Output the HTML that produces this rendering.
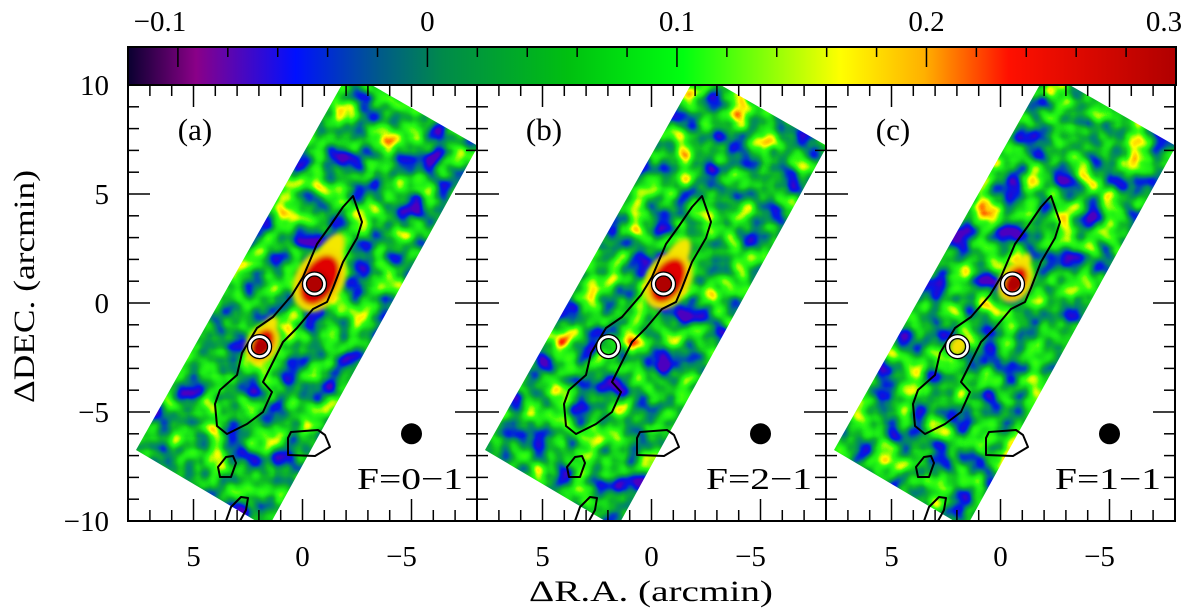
<!DOCTYPE html>
<html><head><meta charset="utf-8">
<style>
html,body{margin:0;padding:0;background:#fff;}
svg{display:block;font-family:"Liberation Serif",serif;}
</style></head>
<body>
<svg id="fig" width="1200" height="612" viewBox="0 0 1200 612" xmlns="http://www.w3.org/2000/svg">
<defs>
<linearGradient id="cmap" x1="0" x2="1" y1="0" y2="0">
<stop offset="0" stop-color="#0a0030"/>
<stop offset="0.065" stop-color="#8a0088"/>
<stop offset="0.16" stop-color="#0010ff"/>
<stop offset="0.24" stop-color="#005a8a"/>
<stop offset="0.30" stop-color="#008a4a"/>
<stop offset="0.42" stop-color="#00c010"/>
<stop offset="0.53" stop-color="#00ff10"/>
<stop offset="0.68" stop-color="#ffff00"/>
<stop offset="0.76" stop-color="#ffb000"/>
<stop offset="0.84" stop-color="#ff1000"/>
<stop offset="1" stop-color="#b00000"/>
</linearGradient>
<filter id="noise" x="0" y="0" width="100%" height="100%" color-interpolation-filters="sRGB">
<feTurbulence type="fractalNoise" baseFrequency="0.04" numOctaves="2" seed="7"/>
<feColorMatrix type="matrix" values="1 0 0 0 0  1 0 0 0 0  1 0 0 0 0  0 0 0 0 1"/>
<feComponentTransfer>
<feFuncR type="table" tableValues="0.3 0.3 0.3 0.3 0.3 0.1 0 0 0 0.02 0.05 0.08 0.12 0.2 0.6 1 1 1 1 1 1"/>
<feFuncG type="table" tableValues="0 0 0 0 0 0.05 0.1 0.3 0.5 0.6 0.72 0.85 0.95 1 1 1 0.8 0.4 0 0 0"/>
<feFuncB type="table" tableValues="0.75 0.75 0.75 0.75 0.75 0.85 0.9 0.7 0.45 0.3 0.15 0.1 0.08 0.05 0.02 0 0 0 0 0 0"/>
</feComponentTransfer>
</filter>
<filter id="blur" x="-50%" y="-50%" width="200%" height="200%"><feGaussianBlur stdDeviation="2.5"/></filter>
</defs>
<g id="root"></g>
</svg>
<script>
// colorbar data
const cbTicks = [-0.1, 0, 0.1, 0.2, 0.3];
const cbTickLabels = ["\u22120.1", "0", "0.1", "0.2", "0.3"];
const cbMin = -0.12, cbMax = 0.3;
// axis data (arcmin)
const xTicks = [5, 0, -5];
const xTickLabels = ["5", "0", "\u22125"];
const yTicks = [10, 5, 0, -5, -10];
const yTickLabels = ["10", "5", "0", "\u22125", "\u221210"];
const panelLabels = ["(a)", "(b)", "(c)"];
const lineLabels = ["F=0\u22121", "F=2\u22121", "F=1\u22121"];
// sources (arcmin offsets)
const srcX = [-0.55, 1.97];
const srcY = [0.87, -2.0];
// emission peak strength per panel per source
const peakA = [1.0, 0.9, 0.6];
const peakB = [0.6, 0.0, 0.2];
const beamX = -5, beamY = -6;

const NS = "http://www.w3.org/2000/svg";
const root = document.getElementById('root');
function mk(tag, attrs, parent) {
  const e = document.createElementNS(NS, tag);
  for (const k in attrs) e.setAttribute(k, attrs[k]);
  (parent || root).appendChild(e);
  return e;
}
const PX = 21.8, PY = 21.8;
const panelLeft = [128, 477, 826], panelW = 349, topY = 85, botY = 521;
function sx(p, v) { return panelLeft[p] + panelW / 2 - v * PX; }
function sy(v) { return 303 - v * PY; }
const cbL = 128, cbR = 1176, cbT = 47, cbB = 85;
function cx(v) { return cbL + (v - cbMin) / (cbMax - cbMin) * (cbR - cbL); }

let cb = mk('rect', {x: cbL, y: cbT, width: cbR - cbL, height: cbB - cbT, fill: 'url(#cmap)', stroke: '#000', 'stroke-width': 2});


for (let i = 0; i <= 21; i++) {
  const v = cbMin + i * 0.02;
  const major = cbTicks.some(t => Math.abs(t - v) < 1e-6);
  const t = mk('line', {x1: cx(v), x2: cx(v), y1: cbT, y2: cbT + (major ? 20 : 10), stroke: '#000', 'stroke-width': 1.5});
  
  
}
cbTicks.forEach((v, i) => {
  const t = mk('text', {x: cx(v) - (i === 0 ? 18 : 0) + (i === 4 ? -12 : 0), y: 31, 'font-size': 29, 'text-anchor': 'middle'});
  t.textContent = cbTickLabels[i];
  
  
});

const mainC = [[353,196],[362,222],[357,238],[343,262],[333,288],[327,302],[313,309],[297,328],[283,342],[270,368],[263,382],[272,392],[263,412],[247,424],[227,434],[217,426],[215,404],[220,390],[237,375],[242,353],[257,328],[273,317],[292,295],[303,277],[317,244],[330,226],[343,207]];
const smallR = [[288,438],[288,455],[315,456],[330,447],[325,435],[318,430],[291,432]];
const smallL = [[218,467],[220,477],[231,477],[236,463],[233,456],[226,457]];
const botC = [[226,521],[231,507],[241,497],[248,498],[246,510],[240,521]];
const mapPoly = [[136,450],[349,72],[478,146],[268,528]];
function pathOf(pts, dx, close) {
  return 'M' + pts.map(p => (p[0] + dx) + ',' + p[1]).join(' L') + (close ? ' Z' : '');
}

for (let p = 0; p < 3; p++) {
  const dx = panelLeft[p] - panelLeft[0];
  const g = mk('g', {});
  
  
  const cid = 'clip' + p;
  const cp = mk('clipPath', {id: cid}, g);
  mk('polygon', {points: mapPoly.map(q => (q[0] + dx) + ',' + q[1]).join(' ')}, cp);
  const pc = 'pc' + p;
  const pcp = mk('clipPath', {id: pc}, g);
  mk('rect', {x: panelLeft[p], y: topY, width: panelW, height: botY - topY}, pcp);
  const outer = mk('g', {'clip-path': 'url(#' + pc + ')'}, g);
  const mg = mk('g', {'clip-path': 'url(#' + cid + ')'}, outer);
  const nr = mk('rect', {x: panelLeft[p], y: topY, width: panelW, height: botY - topY, filter: 'url(#noise)'}, mg);
  
  
  const bx = [sx(p, srcX[0]), sx(p, srcX[1])], by = [sy(srcY[0]), sy(srcY[1])];
  const pk = [peakA[p], peakB[p]];
  for (let s = 0; s < 2; s++) {
    if (pk[s] <= 0) continue;
    const k = pk[s];
    const bg = mk('g', {filter: 'url(#blur)'}, mg);
    
    
    const yx = bx[s] + 12 * k, yy = by[s] - 24 * k;
    mk('ellipse', {cx: yx, cy: yy, rx: 30 * k, ry: 10 * k + 2, fill: '#f4e800', transform: 'rotate(-60 ' + yx + ' ' + yy + ')'}, bg);
    const ox = bx[s] + 5 * k, oy = by[s] - 4 * k;
    mk('ellipse', {cx: ox, cy: oy, rx: 30 * k + 4, ry: 20 * k + 4, fill: '#f4e000', transform: 'rotate(-60 ' + ox + ' ' + oy + ')'}, bg);
    if (k > 0.3) {
      mk('ellipse', {cx: ox, cy: oy, rx: 27 * k, ry: 17 * k, fill: '#e00000', transform: 'rotate(-60 ' + ox + ' ' + oy + ')'}, bg);
      mk('circle', {cx: bx[s] + 2, cy: by[s], r: 13 * k, fill: '#b00000'}, bg);
    }
  }
  [[mainC, true], [smallR, true], [smallL, true], [botC, false]].forEach(([pts, cl]) => {
    const c = mk('path', {d: pathOf(pts, dx, cl), fill: 'none', stroke: '#000', 'stroke-width': 2, 'stroke-linejoin': 'round'}, outer);
    
    
  });
  for (let s = 0; s < 2; s++) {
    const m = mk('circle', {cx: bx[s], cy: by[s], r: 10, fill: 'none', stroke: '#fff', 'stroke-width': 3.5}, g);
    
    
    mk('circle', {cx: bx[s], cy: by[s], r: 12, fill: 'none', stroke: '#000', 'stroke-width': 1.3}, g);
    mk('circle', {cx: bx[s], cy: by[s], r: 8, fill: 'none', stroke: '#000', 'stroke-width': 1.3}, g);
  }
  const bm = mk('circle', {cx: sx(p, beamX), cy: sy(beamY), r: 10.5, fill: '#000'}, g);
  
  
  const fr = mk('rect', {x: panelLeft[p], y: topY, width: panelW, height: botY - topY, fill: 'none', stroke: '#000', 'stroke-width': 2}, g);
  
  
  for (let xv = -8; xv <= 8; xv++) {
    const major = xv % 5 === 0;
    const X = sx(p, xv);
    const tl = major ? 22 : 11;
    mk('line', {x1: X, x2: X, y1: botY, y2: botY - tl, stroke: '#000', 'stroke-width': 1.5}, g);
    mk('line', {x1: X, x2: X, y1: topY, y2: topY + tl, stroke: '#000', 'stroke-width': 1.5}, g);
  }
  for (let yv = -10; yv <= 10; yv++) {
    const major = yv % 5 === 0;
    const Y = sy(yv);
    const tl = major ? 22 : 11;
    mk('line', {x1: panelLeft[p], x2: panelLeft[p] + tl, y1: Y, y2: Y, stroke: '#000', 'stroke-width': 1.5}, g);
    mk('line', {x1: panelLeft[p] + panelW, x2: panelLeft[p] + panelW - tl, y1: Y, y2: Y, stroke: '#000', 'stroke-width': 1.5}, g);
  }
  xTicks.forEach((xv, i) => {
    const t = mk('text', {x: sx(p, xv) - (xv < 0 ? 10 : 0), y: 566, 'font-size': 29, 'text-anchor': 'middle'}, g);
    t.textContent = xTickLabels[i];
    
    
  });
  const pl = mk('text', {x: panelLeft[p] + 67, y: 140, 'font-size': 31, 'text-anchor': 'middle'}, g);
  pl.textContent = panelLabels[p];
  
  
  const ll = mk('text', {x: panelLeft[p] + 229, y: 489, 'font-size': 31, textLength: 106, lengthAdjust: 'spacingAndGlyphs'}, g);
  ll.textContent = lineLabels[p];
  
  
}
yTicks.forEach((yv, i) => {
  const t = mk('text', {x: 109, y: sy(yv) + 10, 'font-size': 29, 'text-anchor': 'end'});
  t.textContent = yTickLabels[i];
  
  
});
const xt = mk('text', {x: 529, y: 601, 'font-size': 30, textLength: 244, lengthAdjust: 'spacingAndGlyphs'});
xt.textContent = "\u0394R.A. (arcmin)";


const yt = mk('text', {x: -116, y: 0, 'font-size': 30, textLength: 233, lengthAdjust: 'spacingAndGlyphs', transform: 'translate(34,287) rotate(-90)'});
yt.textContent = "\u0394DEC. (arcmin)";


</script>
</body></html>
